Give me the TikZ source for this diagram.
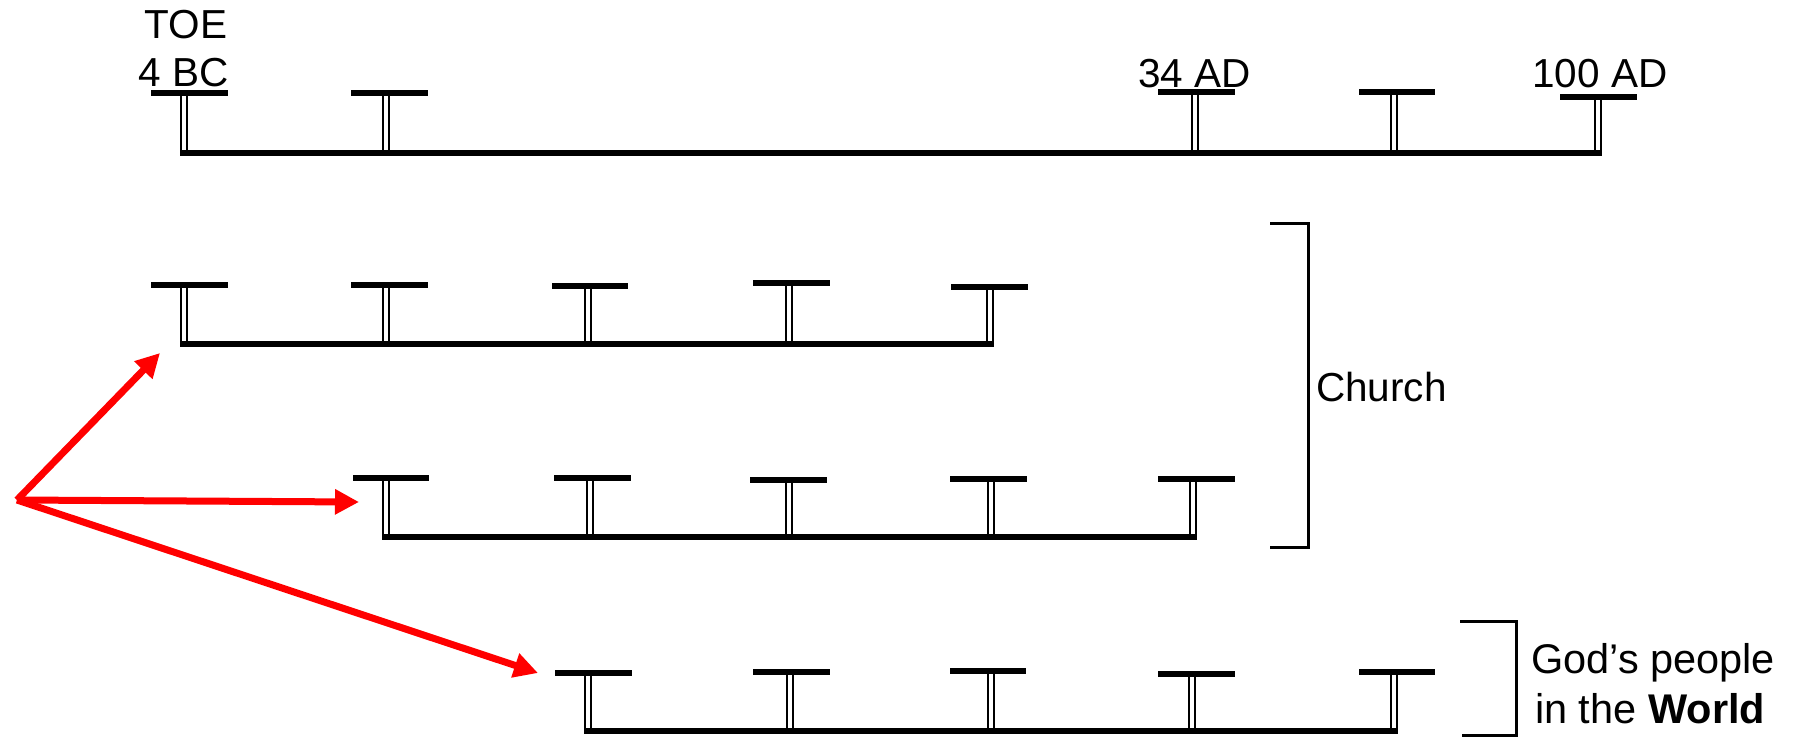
\documentclass[tikz,border=0pt]{standalone}
\usepackage{fontspec}
\setmainfont{Liberation Sans}
\usetikzlibrary{arrows.meta}
\tikzset{
  barline/.style={line width=5.5pt},
  stemline/.style={double, line width=1.8pt, double distance=4pt},
  baseln/.style={line width=5.5pt},
  redarrow/.style={draw=red, line width=7pt, -{Triangle[length=24pt,width=24pt]}},
  brack/.style={line width=3pt, line join=miter},
  lbl/.style={inner sep=0pt, font=\fontsize{40.5}{48}\selectfont},
  lblb/.style={inner sep=0pt, font=\fontsize{41.5}{48}\selectfont},
}
\begin{document}
\begin{tikzpicture}[x=1pt,y=-1pt]
\useasboundingbox (0,0) rectangle (1813,737);
% stems (x, bar y, bar left, bar right)
\foreach \by/\list in {
  153/{184/93/151/228, 386/93/351/428, 1195/92/1158/1235, 1394/92/1359/1435, 1598/97/1560/1637},
  344/{184/285/151/228, 386/285/351/428, 588/286/552/628, 789/283/753/830, 990/287/951/1028},
  537/{386/478/353/429, 590/478/554/631, 789/480/750/827, 991/479/950/1027, 1193/479/1158/1235},
  731/{588/673/555/632, 790/672/753/830, 991/671/950/1026, 1192/674/1158/1235, 1394/672/1359/1435}}{
  \foreach \sx/\ty/\bl/\br in \list {
    \draw[stemline] (\sx,\ty) -- (\sx,\by+2.75);
  }
}
\draw[baseln] (180.3,153) -- (1601.7,153);
\draw[baseln] (180.3,344) -- (993.7,344);
\draw[baseln] (382.3,537) -- (1196.7,537);
\draw[baseln] (584.3,731) -- (1397.7,731);
\foreach \by/\list in {
  153/{184/93/151/228, 386/93/351/428, 1195/92/1158/1235, 1394/92/1359/1435, 1598/97/1560/1637},
  344/{184/285/151/228, 386/285/351/428, 588/286/552/628, 789/283/753/830, 990/287/951/1028},
  537/{386/478/353/429, 590/478/554/631, 789/480/750/827, 991/479/950/1027, 1193/479/1158/1235},
  731/{588/673/555/632, 790/672/753/830, 991/671/950/1026, 1192/674/1158/1235, 1394/672/1359/1435}}{
  \foreach \sx/\ty/\bl/\br in \list {
    \draw[barline] (\bl,\ty) -- (\br,\ty);
  }
}
% labels
\node[lbl, anchor=base] (toe) at (186,38) {TOE};
\node[lbl, anchor=base] (bc) at (184,86) {4 BC};
\node[lbl, anchor=base] (ad34) at (1194.5,87) {34 AD};
\node[lbl, anchor=base] (ad100) at (1600,87) {100 AD};
% brackets
\draw[brack] (1270,223) -- (1308,223) -- (1308,547) -- (1270,547);
\node[lbl, anchor=base west] (church) at (1316,401) {Church};
\draw[brack] (1460,621) -- (1516,621) -- (1516,735) -- (1462,735);
\node[lblb, anchor=base west] (gods) at (1531,673) {God’s people};
\node[lblb, anchor=base west] (world) at (1535,723) {in the \textbf{World}};
% arrows
\coordinate (apex) at (17,500);
\coordinate (t1) at (160,353);
\coordinate (t2) at (359,502);
\coordinate (t3) at (538,673);
\draw[redarrow] (apex) -- (t1);
\draw[redarrow] (apex) -- (t2);
\draw[redarrow] (apex) -- (t3);
\end{tikzpicture}
\end{document}
